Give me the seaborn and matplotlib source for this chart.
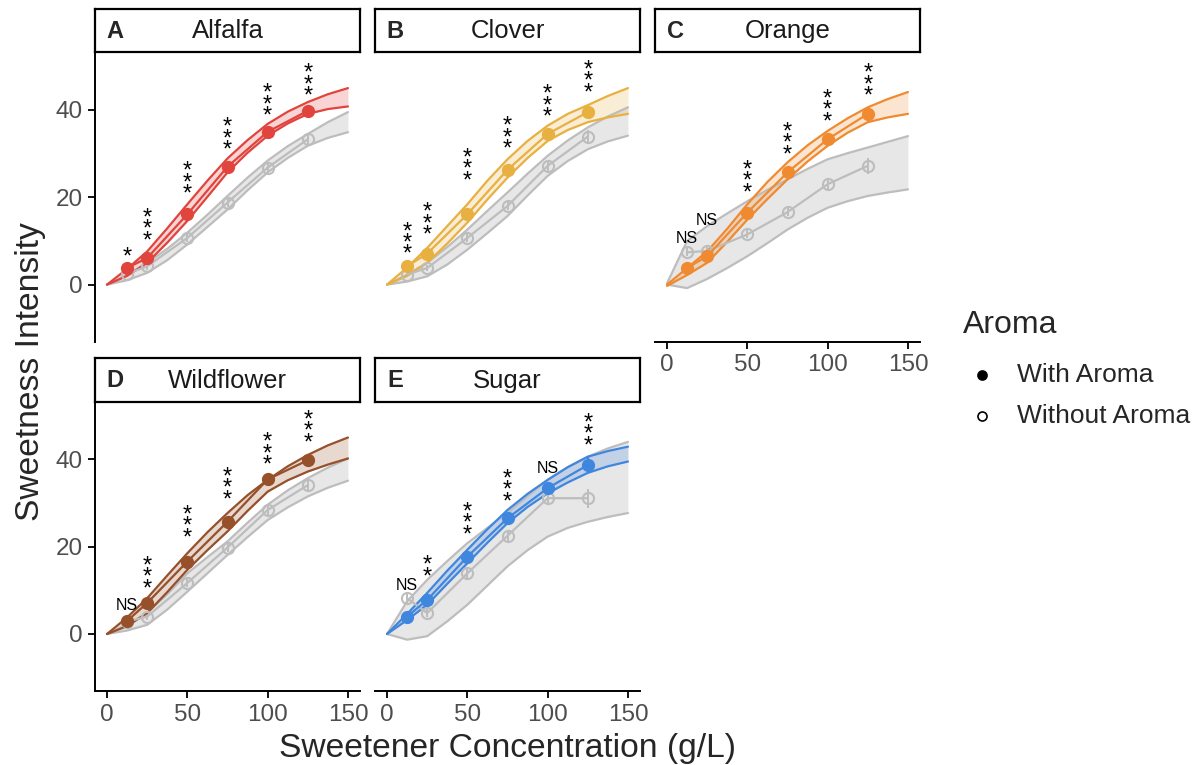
import numpy as np
import pandas as pd
import seaborn as sns
import matplotlib.pyplot as plt
from matplotlib.lines import Line2D

# concentrations tested (g/L)
conc = [12.5, 25, 50, 75, 100, 125]
# x positions where the fitted bands were read
curve_x = [0, 12.5, 25, 37.5, 50, 62.5, 75, 87.5, 100, 112.5, 125, 137.5, 150]

# A - Alfalfa
alfalfa_with = [3.8, 6.1, 16.1, 27.0, 35.0, 39.8]
alfalfa_without = [2.5, 4.2, 10.7, 18.8, 26.8, 33.3]
alfalfa_with_se = [0.8, 0.9, 1.0, 1.1, 1.1, 1.4]
alfalfa_without_se = [0.6, 0.8, 0.9, 1.0, 1.1, 1.3]
alfalfa_with_hi = [0, 3.6, 7.6, 12.9, 18.4, 23.8, 28.9, 33.1, 36.8, 39.6, 41.8, 43.6, 45.0]
alfalfa_with_lo = [0, 2.0, 5.0, 9.6, 14.6, 20.1, 25.7, 30.2, 34.1, 36.9, 39.1, 40.2, 40.8]
alfalfa_without_hi = [0, 2.2, 5.0, 8.2, 11.9, 16.0, 20.3, 24.5, 28.4, 31.7, 34.5, 37.2, 39.5]
alfalfa_without_lo = [0, 1.0, 2.7, 5.6, 9.2, 13.2, 17.2, 21.6, 25.7, 29.0, 31.8, 33.6, 34.9]
alfalfa_sig = ['*', '***', '***', '***', '***', '***']
alfalfa_sig_y = [6.1, 12.6, 23.2, 33.3, 41.1, 45.7]

# B - Clover
clover_with = [4.2, 7.1, 16.1, 26.3, 34.5, 39.5]
clover_without = [2.3, 3.8, 10.7, 18.0, 27.2, 33.9]
clover_with_se = [0.8, 0.9, 1.0, 1.1, 1.2, 1.4]
clover_without_se = [0.6, 0.8, 0.9, 1.0, 1.2, 1.4]
clover_with_hi = [0, 3.9, 8.4, 13.4, 18.4, 23.8, 28.7, 32.9, 36.4, 39.1, 41.1, 43.2, 45.0]
clover_with_lo = [0, 2.0, 5.0, 9.4, 14.2, 19.5, 24.5, 29.0, 32.9, 35.4, 37.2, 38.3, 39.1]
clover_without_hi = [0, 2.3, 5.0, 8.6, 12.6, 16.9, 21.1, 25.4, 29.5, 33.0, 36.0, 38.5, 40.6]
clover_without_lo = [0, 0.7, 1.9, 4.6, 8.0, 11.8, 15.7, 20.4, 24.9, 28.3, 31.0, 32.8, 34.1]
clover_sig = ['***', '***', '***', '***', '***', '***']
clover_sig_y = [9.4, 13.8, 26.3, 33.5, 40.8, 46.4]

# C - Orange
orange_with = [3.8, 6.5, 16.5, 25.7, 33.3, 39.1]
orange_without = [7.4, 7.7, 11.5, 16.6, 23.0, 27.2]
orange_with_se = [0.8, 0.9, 1.1, 1.1, 1.2, 1.5]
orange_without_se = [0.9, 1.0, 0.9, 1.0, 1.2, 1.8]
orange_with_hi = [0, 3.8, 7.6, 12.8, 18.4, 23.5, 28.0, 31.9, 35.2, 38.1, 40.6, 42.5, 44.1]
orange_with_lo = [-0.3, 2.2, 5.0, 9.8, 14.9, 19.6, 24.1, 28.2, 31.8, 34.8, 37.2, 38.3, 39.1]
orange_without_hi = [0.3, 10.0, 13.4, 16.3, 19.1, 21.7, 24.1, 26.5, 28.7, 30.1, 31.4, 32.7, 34.0]
orange_without_lo = [0, -0.8, 1.3, 3.8, 6.5, 9.5, 12.6, 15.3, 17.6, 19.1, 20.3, 21.1, 21.8]
orange_sig = ['NS', 'NS', '***', '***', '***', '***']
orange_sig_y = [10.5, 14.6, 23.5, 32.2, 39.8, 45.7]

# D - Wildflower
wildflower_with = [3.0, 7.1, 16.6, 25.7, 35.4, 39.8]
wildflower_without = [2.8, 4.0, 11.7, 19.8, 28.4, 34.1]
wildflower_with_se = [0.8, 0.9, 1.0, 1.1, 1.2, 1.4]
wildflower_without_se = [0.6, 0.8, 0.9, 1.0, 1.2, 1.4]
wildflower_with_hi = [0, 3.8, 8.2, 13.4, 18.5, 23.3, 27.7, 31.8, 35.3, 38.4, 41.0, 43.2, 45.0]
wildflower_with_lo = [0, 1.8, 4.8, 9.6, 14.7, 19.2, 23.5, 28.2, 32.6, 35.2, 37.2, 38.8, 40.2]
wildflower_without_hi = [0, 2.2, 4.8, 9.1, 13.9, 17.6, 21.2, 25.5, 29.6, 32.9, 35.7, 38.1, 40.2]
wildflower_without_lo = [0, 0.8, 2.1, 5.6, 9.7, 13.9, 18.1, 22.2, 26.1, 29.0, 31.5, 33.5, 35.1]
wildflower_sig = ['NS', '***', '***', '***', '***', '***']
wildflower_sig_y = [6.5, 12.9, 24.5, 33.2, 41.2, 46.3]

# E - Sugar
sugar_with = [4.0, 7.8, 17.7, 26.5, 33.4, 38.7]
sugar_without = [8.2, 4.8, 13.9, 22.5, 31.1, 31.1]
sugar_with_se = [0.8, 1.0, 1.1, 1.2, 1.5, 1.8]
sugar_without_se = [1.0, 0.9, 1.0, 1.2, 1.6, 2.2]
sugar_with_hi = [0, 4.6, 9.4, 14.5, 19.3, 24.0, 28.4, 32.1, 35.3, 38.2, 40.6, 41.9, 42.9]
sugar_with_lo = [0, 3.2, 6.7, 11.5, 16.2, 20.9, 25.4, 29.1, 32.2, 34.7, 36.9, 38.4, 39.5]
sugar_without_hi = [0, 7.5, 12.4, 16.7, 20.8, 24.3, 27.7, 31.6, 35.3, 38.2, 40.6, 42.5, 44.0]
sugar_without_lo = [0, -1.3, -0.5, 2.9, 6.7, 11.1, 15.5, 19.2, 22.3, 24.3, 25.7, 26.8, 27.7]
sugar_sig = ['NS', '**', '***', '***', 'NS', '***']
sugar_sig_y = [11.0, 14.3, 25.2, 32.8, 37.9, 45.6]

panel_letters = ['A', 'B', 'C', 'D', 'E']
panel_names = ['Alfalfa', 'Clover', 'Orange', 'Wildflower', 'Sugar']
panel_colors = ['#E0443C', '#E8B040', '#F08A30', '#96502A', '#3F86DE']
gray = '#BDBDBD'

panels = [
    (alfalfa_with, alfalfa_without, alfalfa_with_se, alfalfa_without_se,
     alfalfa_with_hi, alfalfa_with_lo, alfalfa_without_hi, alfalfa_without_lo,
     alfalfa_sig, alfalfa_sig_y),
    (clover_with, clover_without, clover_with_se, clover_without_se,
     clover_with_hi, clover_with_lo, clover_without_hi, clover_without_lo,
     clover_sig, clover_sig_y),
    (orange_with, orange_without, orange_with_se, orange_without_se,
     orange_with_hi, orange_with_lo, orange_without_hi, orange_without_lo,
     orange_sig, orange_sig_y),
    (wildflower_with, wildflower_without, wildflower_with_se, wildflower_without_se,
     wildflower_with_hi, wildflower_with_lo, wildflower_without_hi, wildflower_without_lo,
     wildflower_sig, wildflower_sig_y),
    (sugar_with, sugar_without, sugar_with_se, sugar_without_se,
     sugar_with_hi, sugar_with_lo, sugar_without_hi, sugar_without_lo,
     sugar_sig, sugar_sig_y),
]

sns.set_style('ticks')
plt.rcParams['font.family'] = ['Liberation Sans', 'DejaVu Sans']

W, H = 1198, 765
fig = plt.figure(figsize=(W / 100, H / 100), dpi=100)

col_left = [95, 375, 655]
panel_w = 265
row_top = [52.3, 401.7]
panel_h = 289.5
strip_h = 43.5

# which panels show which axis
show_y = [True, False, False, True, False]
show_x = [False, False, True, True, True]


def band(ax, hi, lo, color, fill_alpha):
    ax.fill_between(curve_x, lo, hi, color=color, alpha=fill_alpha, lw=0)
    sns.lineplot(x=curve_x, y=hi, ax=ax, color=color, lw=1.6, sort=False)
    sns.lineplot(x=curve_x, y=lo, ax=ax, color=color, lw=1.6, sort=False)


for i, p in enumerate(panels):
    (w_mean, wo_mean, w_se, wo_se, w_hi, w_lo, wo_hi, wo_lo, sig, sig_y) = p
    row, col = divmod(i, 3)
    left = col_left[col] / W
    bottom = 1 - (row_top[row] + panel_h) / H
    ax = fig.add_axes([left, bottom, panel_w / W, panel_h / H])
    color = panel_colors[i]

    # without aroma (grey) underneath
    band(ax, wo_hi, wo_lo, gray, 0.35)
    ax.errorbar(conc, wo_mean, yerr=wo_se, fmt='-o', color=gray, lw=1.6,
                ms=8, mfc='none', mec=gray, mew=1.5, elinewidth=1.4, capsize=0)
    # with aroma
    band(ax, w_hi, w_lo, color, 0.22)
    ax.errorbar(conc, w_mean, yerr=w_se, fmt='-o', color=color, lw=1.6,
                ms=8.5, mfc=color, mec=color, elinewidth=1.6, capsize=0)

    for xv, lab, yv in zip(conc, sig, sig_y):
        if lab == 'NS':
            ax.text(xv, yv, lab, ha='center', va='center', fontsize=11.5,
                    color='black')
        else:
            ax.annotate('\n'.join(lab), (xv, yv), xytext=(0, 0),
                        textcoords='offset points', ha='center', va='center',
                        fontsize=17, linespacing=0.38, color='black')

    ax.set_xlim(-7.5, 157.5)
    ax.set_ylim(-13.1, 53.2)
    ax.set_xticks([0, 50, 100, 150])
    ax.set_yticks([0, 20, 40])
    ax.set_xlabel('')
    ax.set_ylabel('')
    ax.tick_params(axis='both', labelsize=17.5, labelcolor='#4D4D4D',
                   color='black', width=1.3, length=5, pad=4)
    for s in ['top', 'right']:
        ax.spines[s].set_visible(False)
    ax.spines['left'].set_visible(show_y[i])
    ax.spines['bottom'].set_visible(show_x[i])
    for s in ['left', 'bottom']:
        ax.spines[s].set_linewidth(1.4)
        ax.spines[s].set_color('black')
    if not show_y[i]:
        ax.tick_params(axis='y', left=False, labelleft=False)
    if not show_x[i]:
        ax.tick_params(axis='x', bottom=False, labelbottom=False)

    # facet strip
    sax = fig.add_axes([left, 1 - (row_top[row]) / H, panel_w / W, strip_h / H])
    sax.set_xticks([])
    sax.set_yticks([])
    sax.set_facecolor('white')
    for s in sax.spines.values():
        s.set_visible(True)
        s.set_linewidth(1.6)
        s.set_color('black')
    sax.text(0.077, 0.48, panel_letters[i], transform=sax.transAxes,
             ha='center', va='center', fontsize=17, fontweight='bold')
    sax.text(0.5, 0.48, panel_names[i], transform=sax.transAxes,
             ha='center', va='center', fontsize=18.5, color='#1A1A1A')

fig.text(507.5 / W, 1 - 748 / H, 'Sweetener Concentration (g/L)',
         ha='center', va='center', fontsize=24.2)
fig.text(31 / W, 1 - 372 / H, 'Sweetness Intensity', rotation=90,
         ha='center', va='center', fontsize=24.2)

# legend
fig.text(963 / W, 1 - 325 / H, 'Aroma', ha='left', va='center', fontsize=23)
leg_labels = ['With Aroma', 'Without Aroma']
leg_y = [375, 416]
leg_fill = ['black', 'white']
for lab, yy, fc in zip(leg_labels, leg_y, leg_fill):
    fig.add_artist(Line2D([982 / W], [1 - yy / H], transform=fig.transFigure,
                          marker='o', ms=6.5, mfc=fc, mec='black', mew=1.2,
                          ls='none'))
    fig.text(1017 / W, 1 - yy / H, lab, ha='left', va='center', fontsize=19)

fig.savefig('out.png', dpi=100)
